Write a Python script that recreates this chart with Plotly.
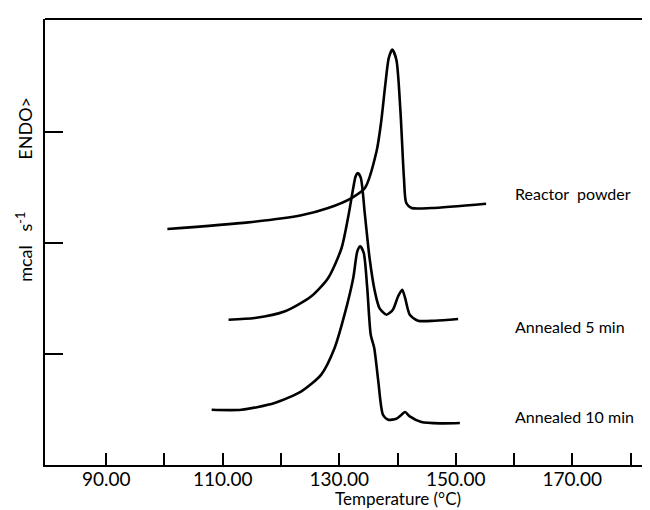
import plotly.graph_objects as go

# ---------------- data ----------------
series_names = ["Reactor  powder", "Annealed 5 min", "Annealed 10 min"]

reactor_T = [100.5, 114.4, 123.5, 128.1, 132.1, 134.4, 136.4, 137.2, 137.9, 138.5,
             139.1, 139.8, 140.5, 141.1, 141.5, 142.4, 145.8, 155.2]
reactor_v = [2.126, 2.186, 2.25, 2.315, 2.405, 2.495, 2.826, 3.096, 3.426, 3.667,
             3.742, 3.651, 3.186, 2.586, 2.36, 2.315, 2.315, 2.354]

ann5_T = [111.0, 115.5, 120.7, 125.2, 128.1, 130.4, 131.5, 132.4, 132.8, 133.2,
          133.7, 134.4, 135.2, 136.1, 136.9, 138.1, 139.2, 140.1, 140.8, 141.3,
          142.1, 143.5, 146.4, 150.4]
ann5_v = [1.309, 1.324, 1.385, 1.52, 1.685, 1.955, 2.225, 2.495, 2.60, 2.63,
          2.586, 2.255, 1.865, 1.565, 1.414, 1.354, 1.399, 1.52, 1.579, 1.505,
          1.354, 1.30, 1.30, 1.315]

ann10_T = [108.1, 113.2, 118.9, 123.5, 126.9, 129.2, 130.9, 132.4, 133.1, 133.6,
           134.2, 134.8, 135.4, 136.0, 136.7, 137.5, 138.4, 139.8, 140.7, 141.3,
           142.1, 144.1, 147.5, 150.7]
ann10_v = [0.498, 0.498, 0.559, 0.664, 0.814, 1.054, 1.354, 1.685, 1.925, 1.97,
           1.91, 1.595, 1.174, 1.054, 0.754, 0.453, 0.408, 0.417, 0.453, 0.477,
           0.438, 0.387, 0.375, 0.378]

x_major_ticks = [90, 110, 130, 150, 170]
x_tick_labels = ["90.00", "110.00", "130.00", "150.00", "170.00"]
x_minor_ticks = [100, 120, 140, 160, 180]
y_tick_vals = [1, 2, 3]

x_title = "Temperature (°C)"
y_title_top = "ENDO>"
y_title_bottom = "mcal   s<sup>-1</sup>"

# ---------------- figure ----------------
FONT = "Lato, 'Open Sans', sans-serif"
fig = go.Figure()

curves = [(reactor_T, reactor_v), (ann5_T, ann5_v), (ann10_T, ann10_v)]
for name, (tx, vy) in zip(series_names, curves):
    fig.add_trace(go.Scatter(
        x=tx, y=vy, mode="lines", name=name,
        line=dict(color="black", width=2.6, shape="spline", smoothing=0.7),
        showlegend=False, hoverinfo="skip",
    ))

# curve labels to the right of each trace
label_pos = [(159.8, 2.45), (159.8, 1.25), (159.8, 0.44)]
for name, (lx, ly) in zip(series_names, label_pos):
    fig.add_annotation(x=lx, y=ly, xref="x", yref="y", text=name,
                       showarrow=False, xanchor="left", yanchor="middle",
                       font=dict(family=FONT, size=16, color="black"))

# x axis title
fig.add_annotation(x=140, y=-0.074, xref="x", yref="paper", text=x_title,
                   showarrow=False, xanchor="center", yanchor="middle",
                   font=dict(family=FONT, size=17, color="black"))
# y axis title (two parts, rotated)
fig.add_annotation(x=-0.032, y=0.755, xref="paper", yref="paper", text=y_title_top,
                   showarrow=False, textangle=-90, xanchor="center", yanchor="middle",
                   font=dict(family=FONT, size=18, color="black"))
fig.add_annotation(x=-0.032, y=0.49, xref="paper", yref="paper", text=y_title_bottom,
                   showarrow=False, textangle=-90, xanchor="center", yanchor="middle",
                   font=dict(family=FONT, size=18, color="black"))

# top frame line
fig.add_shape(type="line", xref="paper", yref="paper", x0=0, x1=1, y0=1, y1=1,
              line=dict(color="black", width=2))

fig.update_layout(
    width=650, height=510, autosize=False,
    margin=dict(l=37, r=0, t=11, b=53, pad=0),
    plot_bgcolor="white", paper_bgcolor="white",
    font=dict(family=FONT, color="black"),
    xaxis=dict(range=[79.5, 184.7], showline=True, linewidth=2, linecolor="black",
               ticks="inside", ticklen=12, tickwidth=2, tickcolor="black",
               tickmode="array", tickvals=x_major_ticks, ticktext=x_tick_labels,
               tickfont=dict(family=FONT, size=19, color="black"),
               ticklabelstandoff=-4,
               minor=dict(tickmode="array", tickvals=x_minor_ticks, ticks="inside",
                          ticklen=12, tickwidth=2, tickcolor="black", showgrid=False),
               showgrid=False, zeroline=False, fixedrange=True),
    yaxis=dict(range=[0, 4.018], showline=True, linewidth=2, linecolor="black",
               ticks="inside", ticklen=18, tickwidth=2, tickcolor="black",
               tickmode="array", tickvals=y_tick_vals, showticklabels=False,
               showgrid=False, zeroline=False, fixedrange=True),
)

fig.write_html("out.html")
